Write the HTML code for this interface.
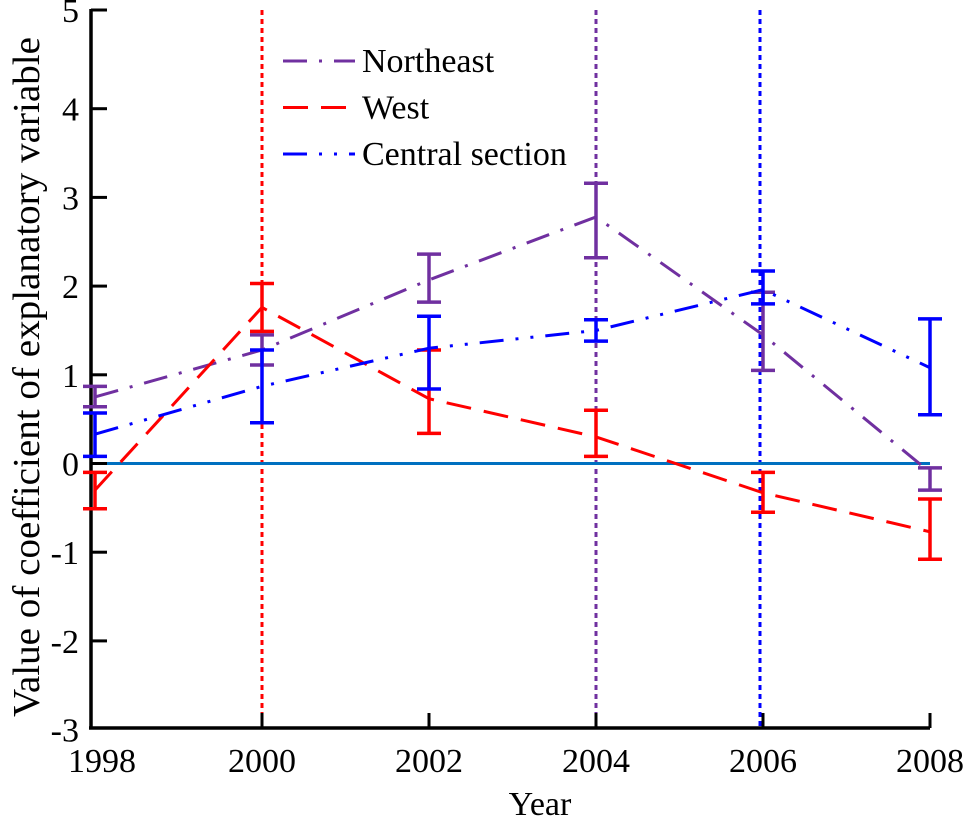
<!DOCTYPE html>
<html><head><meta charset="utf-8"><style>
body{margin:0;background:#fff}
svg{display:block}
svg text{font-family:"Liberation Serif",serif}
</style></head><body>
<svg id="chart" width="971" height="827" viewBox="0 0 971 827"></svg>
<script>
const years=[1998,2000,2002,2004,2006,2008];
const neVal=[0.75,1.28,2.07,2.78,1.45,-0.1];
const neLo=[0.64,1.11,1.82,2.32,1.05,-0.3];
const neHi=[0.87,1.45,2.36,3.16,1.93,-0.05];
const westVal=[-0.3,1.76,0.73,0.3,-0.33,-0.77];
const westLo=[-0.51,1.49,0.34,0.08,-0.55,-1.08];
const westHi=[-0.1,2.03,1.28,0.6,-0.1,-0.4];
const cenVal=[0.33,0.87,1.3,1.5,1.96,1.08];
const cenLo=[0.08,0.46,0.84,1.38,1.8,0.55];
const cenHi=[0.57,1.28,1.66,1.62,2.17,1.63];
const yTicks=[-3,-2,-1,0,1,2,3,4];
const xTicks=[1998,2000,2002,2004,2006,2008];
const vLineYears=[2000,2004,2006];
const vLineColors=['#ff0000','#7030a0','#0000ff'];

const NS='http://www.w3.org/2000/svg';
const svg=document.getElementById('chart');
const X=y=>95+83.5*(y-1998);
const Y=v=>463.5-88.7*v;
function mk(tag,attrs,parent){const e=document.createElementNS(NS,tag);for(const k in attrs)e.setAttribute(k,attrs[k]);(parent||svg).appendChild(e);return e;}
const FS=34;

vLineYears.forEach((yr,i)=>{
  const l=mk('line',{x1:X(yr)-(yr===2006?3:0),x2:X(yr)-(yr===2006?3:0),y1:10,y2:728,stroke:vLineColors[i],'stroke-width':3,'stroke-dasharray':'5,4'});
  
  
});
const z=mk('line',{x1:91,x2:930,y1:Y(0),y2:Y(0),stroke:'#0070c0','stroke-width':3});



const ax=mk('g',{});


mk('line',{x1:91,x2:91,y1:9,y2:729,stroke:'#000','stroke-width':3.5},ax);
mk('line',{x1:89,x2:930,y1:728,y2:728,stroke:'#000','stroke-width':3.5},ax);
mk('line',{x1:91,x2:107,y1:10,y2:10,stroke:'#000','stroke-width':3},ax);
const t5=mk('text',{x:79,y:22,'font-size':FS,'text-anchor':'end'},ax);t5.textContent='5';


yTicks.forEach(v=>{
  if(v!==-3) mk('line',{x1:91,x2:107,y1:Y(v),y2:Y(v),stroke:'#000','stroke-width':3},ax);
  const t=mk('text',{x:79,y:Y(v)+12,'font-size':FS,'text-anchor':'end'},ax);
  t.textContent=String(v);
  
  
});
xTicks.forEach(yr=>{
  if(yr!==1998) mk('line',{x1:X(yr),x2:X(yr),y1:728,y2:713,stroke:'#000','stroke-width':3},ax);
  const t=mk('text',{x:X(yr)+(yr===1998?7:0),y:772,'font-size':FS,'text-anchor':'middle'},ax);
  t.textContent=String(yr);
  
  
});
const xt=mk('text',{x:540,y:815,'font-size':FS,'text-anchor':'middle'});
xt.textContent='Year';


const yt=mk('text',{x:-340,y:0,'font-size':38,textLength:680,lengthAdjust:'spacingAndGlyphs',transform:'translate(39,377) rotate(-90)'});
yt.textContent='Value of coefficient of explanatory variable';



const series=[
 {name:'northeast',color:'#7030a0',dash:'24,12,3,12',val:neVal,lo:neLo,hi:neHi},
 {name:'west',color:'#ff0000',dash:'25,13',val:westVal,lo:westLo,hi:westHi},
 {name:'central',color:'#0000ff',dash:'24,12,3,12,3,12',val:cenVal,lo:cenLo,hi:cenHi}
];
series.forEach(s=>{
  const g=mk('g',{});
  
  
  const pts=years.map((yr,i)=>X(yr)+','+Y(s.val[i])).join(' ');
  const pl=mk('polyline',{points:pts,fill:'none',stroke:s.color,'stroke-width':3,'stroke-dasharray':s.dash},g);
  
  
  years.forEach((yr,i)=>{
    const x=X(yr);
    const eb=mk('path',{d:`M${x},${Y(s.lo[i])}V${Y(s.hi[i])}M${x-12},${Y(s.lo[i])}H${x+12}M${x-12},${Y(s.hi[i])}H${x+12}`,stroke:s.color,'stroke-width':3.5,fill:'none'},g);
    
    
  });
});

const legend=mk('g',{});


const labels=['Northeast','West','Central section'];
series.forEach((s,i)=>{
  const yy=61+46.5*i;
  const e=mk('g',{},legend);
  
  
  mk('line',{x1:283,x2:355,y1:yy,y2:yy,stroke:s.color,'stroke-width':3,'stroke-dasharray':s.dash},e);
  const t=mk('text',{x:362,y:yy+11,'font-size':FS},e);
  t.textContent=labels[i];
});
</script>
</body></html>
